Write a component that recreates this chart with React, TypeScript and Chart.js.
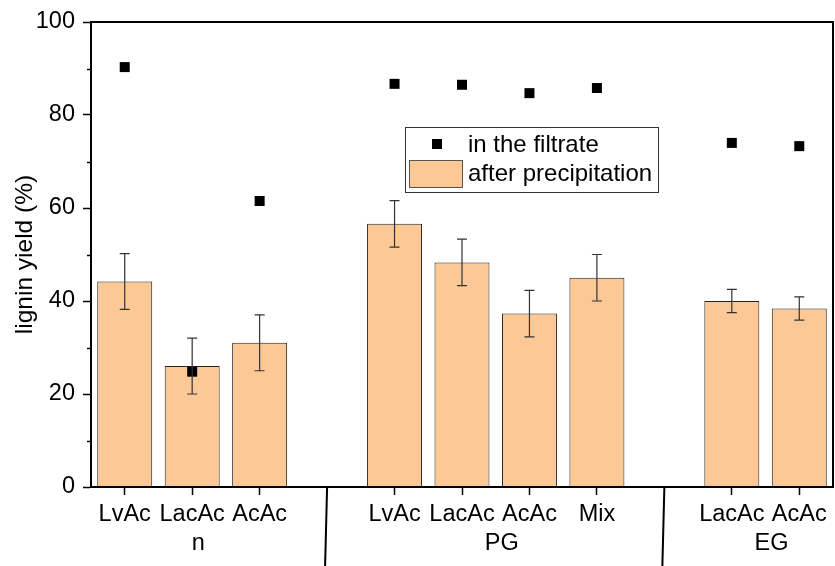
import React, { useEffect, useRef } from "react";
import { Chart, registerables } from "chart.js";

Chart.register(...registerables);

const categories = ["LvAc", "LacAc", "AcAc", "", "LvAc", "LacAc", "AcAc", "Mix", "", "LacAc", "AcAc"];
const afterPrecipitation = [44.2, 26.0, 31.0, null, 56.6, 48.3, 37.3, 45.0, null, 40.0, 38.4];
const precipitationError = [6.0, 6.0, 6.0, null, 5.0, 5.0, 5.0, 5.0, null, 2.5, 2.5];
const inFiltrate = [90.3, 24.8, 61.5, null, 86.7, 86.5, 84.7, 85.8, null, 74.0, 73.3];
const groupNames = ["n", "PG", "EG"];
const groupMembers = [[0, 1, 2], [4, 5, 6, 7], [9, 10]];
const separatorIndices = [3, 8];
const yTicks = [0, 20, 40, 60, 80, 100];
const yMinorTicks = [10, 30, 50, 70, 90];

const FONT = "'Liberation Sans', Arial, sans-serif";
const BAR_FILL = "#FCC896";

const customPlugin = {
  id: "custom",
  afterDatasetsDraw(chart: any) {
    const ctx = chart.ctx;
    const y = chart.scales.y;
    const barMeta = chart.getDatasetMeta(1);
    ctx.save();
    ctx.strokeStyle = "#333";
    ctx.lineWidth = 1.2;
    afterPrecipitation.forEach((v, i) => {
      const e = precipitationError[i];
      if (v == null || e == null) return;
      const el = barMeta.data[i];
      const cx = el.x;
      const yt = y.getPixelForValue(v + e);
      const yb = y.getPixelForValue(v - e);
      ctx.beginPath();
      ctx.moveTo(cx, yt);
      ctx.lineTo(cx, yb);
      ctx.moveTo(cx - 5, yt);
      ctx.lineTo(cx + 5, yt);
      ctx.moveTo(cx - 5, yb);
      ctx.lineTo(cx + 5, yb);
      ctx.stroke();
    });
    ctx.restore();
  },
  afterDraw(chart: any) {
    const ctx = chart.ctx;
    const x = chart.scales.x;
    const y = chart.scales.y;
    const area = chart.chartArea;
    ctx.save();
    // frame
    ctx.strokeStyle = "#000";
    ctx.lineWidth = 2;
    ctx.strokeRect(area.left, area.top, area.right - area.left, area.bottom - area.top);
    // minor y ticks
    ctx.lineWidth = 1.5;
    yMinorTicks.forEach((t) => {
      const py = Math.round(y.getPixelForValue(t)) + 0.5;
      ctx.beginPath();
      ctx.moveTo(area.left, py);
      ctx.lineTo(area.left - 4, py);
      ctx.stroke();
    });
    // separators
    ctx.lineWidth = 2;
    separatorIndices.forEach((i) => {
      const px = x.getPixelForValue(i);
      ctx.beginPath();
      ctx.moveTo(px, area.bottom);
      ctx.lineTo(px - 2, chart.height);
      ctx.stroke();
    });
    // group labels
    ctx.fillStyle = "#000";
    ctx.font = `23.5px ${FONT}`;
    ctx.textAlign = "center";
    ctx.textBaseline = "middle";
    groupNames.forEach((name, g) => {
      const idx = groupMembers[g];
      const cx = idx.reduce((s, i) => s + x.getPixelForValue(i), 0) / idx.length;
      ctx.fillText(name, cx + 6, area.bottom + 57);
    });
    // legend
    const lx = area.left + 314;
    const ly = area.top + 105;
    const lw = 253;
    const lh = 65;
    ctx.fillStyle = "#fff";
    ctx.fillRect(lx, ly, lw, lh);
    ctx.strokeStyle = "#333";
    ctx.lineWidth = 1;
    ctx.strokeRect(lx + 0.5, ly + 0.5, lw, lh);
    ctx.fillStyle = "#000";
    ctx.fillRect(lx + 27, ly + 12, 10, 10);
    ctx.fillStyle = BAR_FILL;
    ctx.fillRect(lx + 4, ly + 33, 53, 27);
    ctx.strokeStyle = "#555";
    ctx.strokeRect(lx + 4.5, ly + 33.5, 53, 27);
    ctx.fillStyle = "#000";
    ctx.textAlign = "left";
    ctx.font = `24px ${FONT}`;
    ctx.fillText("in the filtrate", lx + 63, ly + 18);
    ctx.fillText("after precipitation", lx + 63, ly + 47);
    ctx.restore();
  },
};

export default function App() {
  const ref = useRef<HTMLCanvasElement | null>(null);
  useEffect(() => {
    document.body.style.margin = "0";
    const canvas = ref.current!;
    const chart = new Chart(canvas, {
      type: "bar",
      data: {
        labels: categories,
        datasets: [
          {
            type: "line",
            label: "in the filtrate",
            data: inFiltrate as any,
            showLine: false,
            pointStyle: "rect",
            pointRadius: 7.07,
            pointBackgroundColor: "#000",
            pointBorderWidth: 0,
            borderColor: "#000",
            backgroundColor: "#000",
            order: 0,
          } as any,
          {
            type: "bar",
            label: "after precipitation",
            data: afterPrecipitation as any,
            backgroundColor: BAR_FILL,
            borderColor: "#222",
            borderWidth: 1,
            categoryPercentage: 1,
            barPercentage: 0.815,
            order: 1,
          },
        ],
      },
      options: {
        animation: false,
        responsive: false,
        maintainAspectRatio: false,
        layout: { autoPadding: false, padding: { top: 22, right: 2, left: 0, bottom: 0 } },
        plugins: { legend: { display: false }, tooltip: { enabled: false } },
        scales: {
          x: {
            offset: true,
            grid: {
              offset: false,
              drawOnChartArea: false,
              tickLength: 8,
              tickWidth: 1.5,
              tickColor: (c: any) => (categories[c.index] === "" ? "rgba(0,0,0,0)" : "#000"),
            },
            border: { color: "#000", width: 2 },
            ticks: {
              color: "#000",
              font: { family: FONT, size: 23.5 },
              padding: 5,
              maxRotation: 0,
              autoSkip: false,
            },
            afterFit: (s: any) => {
              s.height = 79;
              s.paddingLeft = 0;
              s.paddingRight = 0;
            },
          },
          y: {
            min: 0,
            max: 100,
            afterBuildTicks: (s: any) => {
              s.ticks = yTicks.map((v) => ({ value: v }));
            },
            grid: {
              drawOnChartArea: false,
              tickLength: 8,
              tickWidth: 1.5,
              tickColor: "#000",
            },
            border: { color: "#000", width: 2 },
            ticks: {
              color: "#000",
              font: { family: FONT, size: 23.5 },
              padding: 8,
            },
            title: {
              display: true,
              text: "lignin yield (%)",
              color: "#000",
              font: { family: FONT, size: 24.5 },
              padding: { top: 11, bottom: 0 },
            },
            afterFit: (s: any) => {
              s.width = 91;
              s.paddingTop = 0;
              s.paddingBottom = 0;
            },
          },
        },
      },
      plugins: [customPlugin],
    });
    return () => chart.destroy();
  }, []);
  return (
    <div style={{ width: 835, height: 566 }}>
      <canvas ref={ref} width={835} height={566} style={{ display: "block" }} />
    </div>
  );
}
